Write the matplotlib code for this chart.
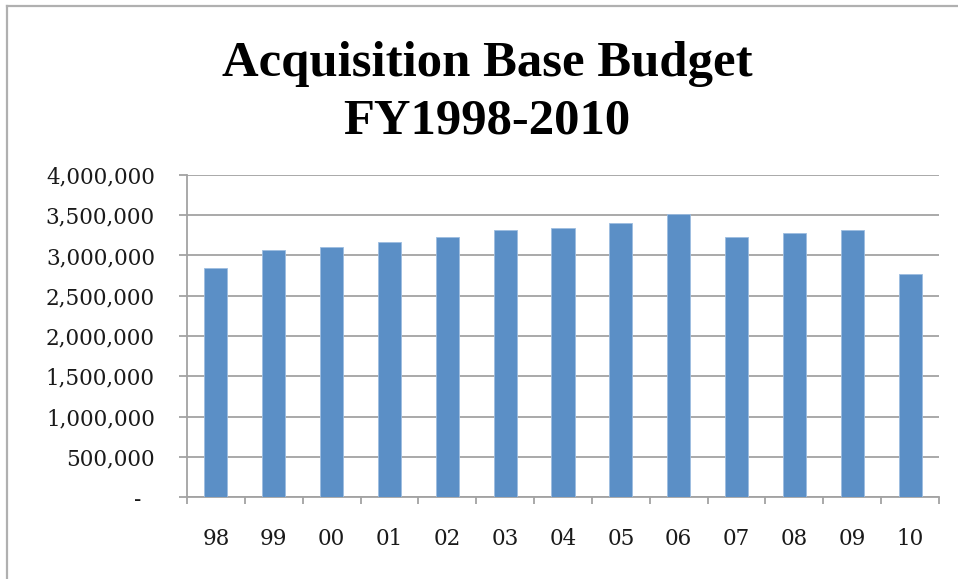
import matplotlib.pyplot as plt
from matplotlib.lines import Line2D
from matplotlib.ticker import FuncFormatter, MultipleLocator
import numpy as np

plt.rcParams['font.family'] = 'DejaVu Serif'

# fiscal years and acquisition base budget
years = ['98', '99', '00', '01', '02', '03', '04', '05', '06', '07', '08', '09', '10']
budget = [2841000, 3068000, 3102000, 3164000, 3226000, 3317000, 3342000,
          3400000, 3516000, 3230000, 3276000, 3317000, 2766000]

title_line1 = 'Acquisition Base Budget'
title_line2 = 'FY1998-2010'

bar_color = '#5b8fc6'
grid_color = '#a3a3a3'
text_color = '#1a1a1a'

fig = plt.figure(figsize=(9.58, 5.79), dpi=100)
ax = fig.add_axes([187 / 958, 1 - 497 / 579, 752 / 958, 322 / 579])

x = np.arange(len(years))
ax.bar(x, budget, width=0.4, color=bar_color, edgecolor='#9dbde0', linewidth=0.6, zorder=3)

ax.set_xlim(-0.5, len(years) - 0.5)
ax.set_ylim(0, 4000000)

# y axis: accounting style labels, dash for zero
def fmt(v, pos):
    if v == 0:
        return '-  '
    return f'{int(v):,}'

ax.yaxis.set_major_locator(MultipleLocator(500000))
ax.yaxis.set_major_formatter(FuncFormatter(fmt))
ax.grid(axis='y', color=grid_color, linewidth=1.3, zorder=0)

# x axis: labels centred, tick marks between categories
ax.set_xticks(x)
ax.set_xticklabels(years)
ax.set_xticks(np.arange(-0.5, len(years)), minor=True)
ax.tick_params(axis='x', which='major', length=0, pad=22, labelsize=15.5, labelcolor=text_color)
ax.tick_params(axis='x', which='minor', length=5.2, width=1.3, color=grid_color)
ax.tick_params(axis='y', length=5.8, width=1.3, color=grid_color, pad=17.3,
               labelsize=15.5, labelcolor=text_color)

for side in ['top', 'right']:
    ax.spines[side].set_visible(False)
for side in ['left', 'bottom']:
    ax.spines[side].set_color(grid_color)
    ax.spines[side].set_linewidth(1.3)

# title
fig.text(487 / 958, 1 - 76 / 579, title_line1, ha='center', va='baseline',
         fontfamily='Liberation Serif', fontweight='bold', fontsize=36.5, color='black')
fig.text(487 / 958, 1 - 134 / 579, title_line2, ha='center', va='baseline',
         fontfamily='Liberation Serif', fontweight='bold', fontsize=36.5, color='black')

# chart area border (left and top edges visible)
fig.add_artist(Line2D([6.5 / 958, 6.5 / 958], [0, 1 - 5.5 / 579], color='#b0b0b0', linewidth=1.6))
fig.add_artist(Line2D([6.5 / 958, 1], [1 - 5.5 / 579, 1 - 5.5 / 579], color='#b0b0b0', linewidth=1.6))

fig.savefig('out.png', dpi=100)
